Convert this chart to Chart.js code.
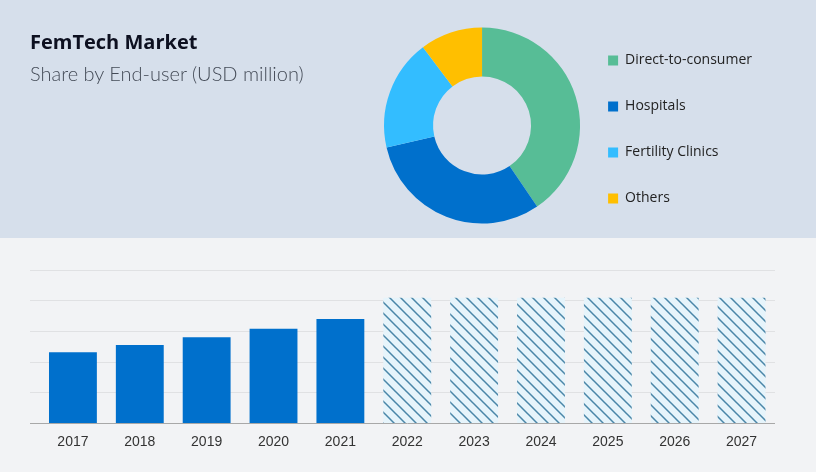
<!DOCTYPE html>
<html>
<head>
<meta charset="utf-8">
<script src="https://cdn.jsdelivr.net/npm/chart.js@4"></script>
<style>
  html, body { margin: 0; padding: 0; width: 816px; height: 472px; overflow: hidden; background: #f2f3f5; }
  #top { position: absolute; left: 0; top: 0; width: 816px; height: 238px; background: #d6dfeb; }
  #bottom { position: absolute; left: 0; top: 238px; width: 816px; height: 234px; }
  #title { position: absolute; left: 30px; top: 28px; font: bold 20px "Open Sans", sans-serif; color: #0d1020; }
  #subtitle { position: absolute; left: 30px; top: 61px; font: 300 20px Lato, sans-serif; color: #444b57; }
</style>
</head>
<body>
<div id="top"><canvas id="donut" width="816" height="238"></canvas></div>
<div id="title">FemTech Market</div>
<div id="subtitle">Share by End-user (USD million)</div>
<div id="bottom"><canvas id="bars" width="816" height="234"></canvas></div>
<script>
const endUsers = ["Direct-to-consumer", "Hospitals", "Fertility Clinics", "Others"];
const shares = [40.5, 30.9, 18.3, 10.3];
const shareColors = ["#57bd96", "#0070cc", "#33bdff", "#ffbf00"];

const years = ["2017", "2018", "2019", "2020", "2021", "2022", "2023", "2024", "2025", "2026", "2027"];
const actualValues = [2.32, 2.56, 2.81, 3.09, 3.40, null, null, null, null, null, null];
const forecastValues = [null, null, null, null, null, 4.1, 4.1, 4.1, 4.1, 4.1, 4.1];

Chart.defaults.animation = false;
Chart.defaults.responsive = false;

// diagonal stripes for the forecast years
function hatch() {
  const size = 11;
  const c = document.createElement("canvas");
  c.width = size;
  c.height = size;
  const g = c.getContext("2d");
  g.fillStyle = "#e6f4fb";
  g.fillRect(0, 0, size, size);
  g.strokeStyle = "#4a86a8";
  g.lineWidth = 1.5;
  g.beginPath();
  g.moveTo(-2, -2);
  g.lineTo(size + 2, size + 2);
  g.moveTo(-2, size - 2);
  g.lineTo(2, size + 2);
  g.moveTo(size - 2, -2);
  g.lineTo(size + 2, 2);
  g.stroke();
  return g.createPattern(c, "repeat");
}

// the legend sits a little lower than the donut centre
const nudgeLegend = {
  id: "nudgeLegend",
  afterLayout(chart) {
    chart.legend.top += 4;
    chart.legend.bottom += 4;
  }
};

new Chart(document.getElementById("donut"), {
  type: "doughnut",
  data: {
    labels: endUsers,
    datasets: [{ data: shares, backgroundColor: shareColors, borderWidth: 0 }]
  },
  plugins: [nudgeLegend],
  options: {
    radius: 98,
    cutout: "50%",
    layout: { padding: { top: 13, bottom: 0, left: 388, right: 54 } },
    plugins: {
      tooltip: { enabled: false },
      legend: {
        position: "right",
        labels: {
          boxWidth: 10,
          boxHeight: 10,
          padding: 32,
          color: "#222",
          font: { family: "'Open Sans'", size: 14 }
        }
      }
    }
  }
});

new Chart(document.getElementById("bars"), {
  type: "bar",
  data: {
    labels: years,
    datasets: [
      { data: actualValues, backgroundColor: "#0070cc", barPercentage: 0.716, categoryPercentage: 1 },
      { data: forecastValues, backgroundColor: hatch(), barPercentage: 0.716, categoryPercentage: 1 }
    ]
  },
  options: {
    layout: { padding: { top: 32, left: 30, right: 41 } },
    plugins: { legend: { display: false }, tooltip: { enabled: false } },
    scales: {
      x: {
        stacked: true,
        grid: { display: false },
        border: { display: false },
        ticks: { color: "#333", font: { family: "'Liberation Sans'", size: 14 }, padding: 2, maxRotation: 0 },
        afterFit: s => { s.height = 48.5; }
      },
      y: {
        stacked: true,
        min: 0,
        max: 5,
        border: { display: false },
        ticks: { display: false, stepSize: 1 },
        grid: {
          tickLength: 9.5,
          color: c => (c.tick.value === 0 ? "#a8a8a8" : "#e0e1e3"),
          tickColor: c => (c.tick.value === 0 ? "#a8a8a8" : "#e0e1e3")
        },
        afterFit: s => { s.width = 9.5; }
      }
    }
  }
});
</script>
</body>
</html>
